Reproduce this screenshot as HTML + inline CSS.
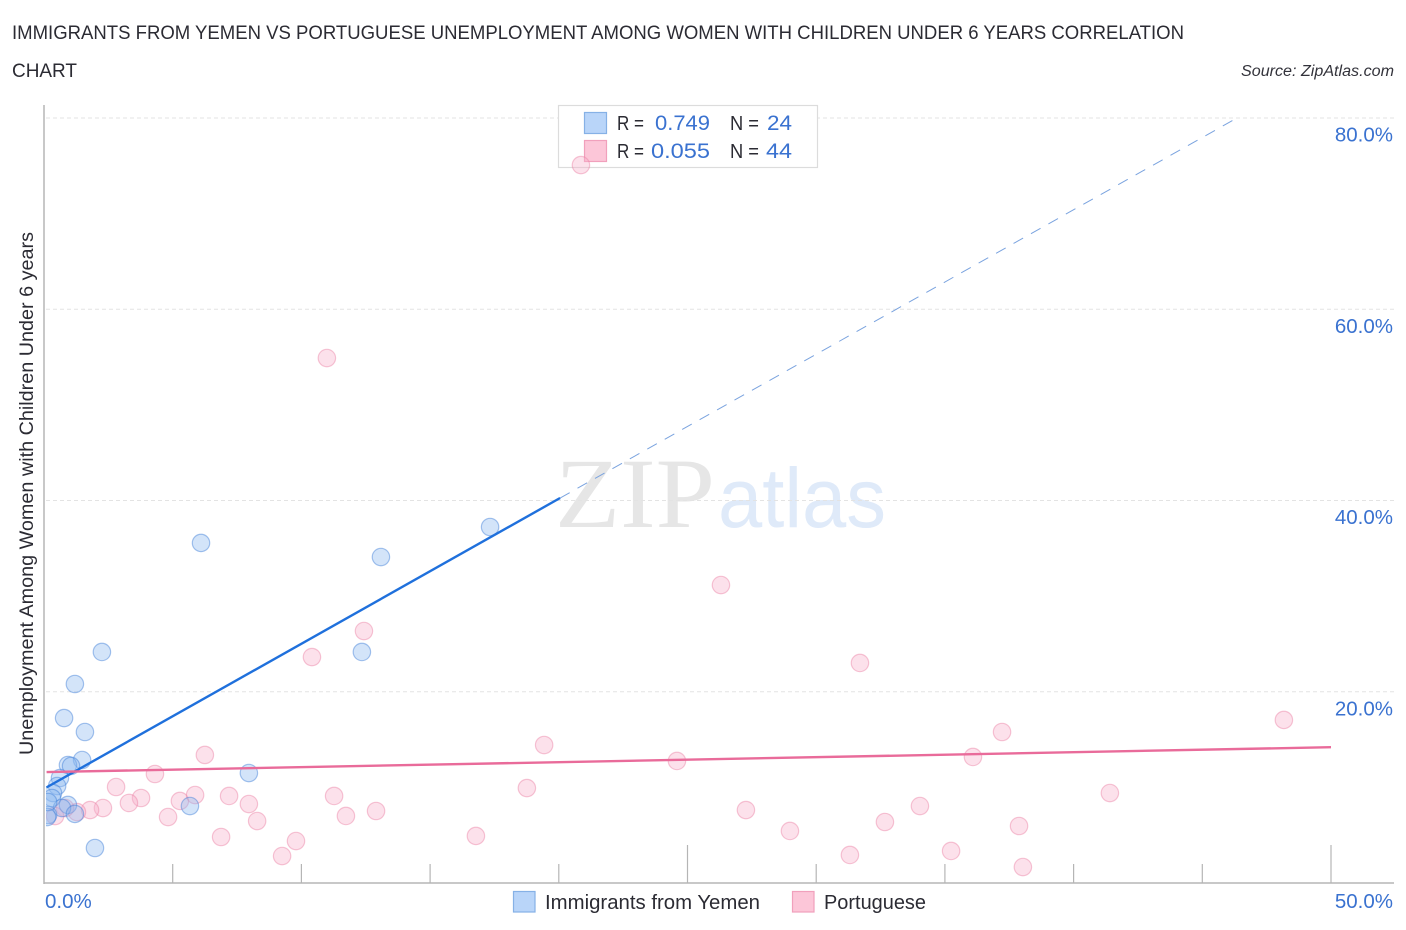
<!DOCTYPE html>
<html lang="en">
<head>
<meta charset="utf-8">
<title>Immigrants from Yemen vs Portuguese Unemployment Correlation Chart</title>
<style>
html,body{margin:0;padding:0;background:#fff;}
body{width:1406px;height:930px;overflow:hidden;}
svg{display:block;font-family:"Liberation Sans",Arial,sans-serif;}
</style>
</head>
<body>
<svg id="chart" xmlns="http://www.w3.org/2000/svg" width="1406" height="930" viewBox="0 0 1406 930">
  <defs>
    <clipPath id="plot-clip"><rect x="46" y="100" width="1350" height="784"/></clipPath>
  </defs>
  <rect x="0" y="0" width="1406" height="930" fill="#fff"/>

  <text x="12" y="39" font-size="19.5" fill="#2b2b33" textLength="1172" lengthAdjust="spacingAndGlyphs">IMMIGRANTS FROM YEMEN VS PORTUGUESE UNEMPLOYMENT AMONG WOMEN WITH CHILDREN UNDER 6 YEARS CORRELATION</text>
  <text x="12" y="77" font-size="19.5" fill="#2b2b33" textLength="65" lengthAdjust="spacingAndGlyphs">CHART</text>
  <text x="1241" y="76" font-size="15.5" font-style="italic" fill="#33333b" textLength="153" lengthAdjust="spacingAndGlyphs">Source: ZipAtlas.com</text>

  <g id="watermark">
    <text x="555" y="527" font-family="'Liberation Serif',serif" font-size="100" fill="#e6e6e6" textLength="160" lengthAdjust="spacingAndGlyphs">ZIP</text>
    <text x="718" y="527" font-size="84" fill="#dfeaf9" textLength="168" lengthAdjust="spacingAndGlyphs">atlas</text>
  </g>

  <g id="grid"></g>
  <g id="axes"></g>
  <g id="tick-labels"></g>

  <text transform="translate(33,755) rotate(-90)" x="0" y="0" font-size="19" fill="#2b2b33" textLength="523" lengthAdjust="spacingAndGlyphs">Unemployment Among Women with Children Under 6 years</text>

  <g id="legend-top">
    <rect x="558.5" y="105.5" width="259" height="62" fill="#fff" stroke="#dcdcdc" stroke-width="1.2"/>
    <rect x="584.5" y="112.5" width="22" height="21" fill="#b9d5f9" stroke="#86b1e6" stroke-width="1.2"/>
    <rect x="584.5" y="140.5" width="22" height="21" fill="#fcc6d8" stroke="#f1a0bc" stroke-width="1.2"/>
    <text x="617" y="130" font-size="20" fill="#2b2b33" textLength="27" lengthAdjust="spacingAndGlyphs">R =</text>
    <text x="655" y="130" font-size="21" fill="#3a72d0" textLength="55" lengthAdjust="spacingAndGlyphs">0.749</text>
    <text x="730" y="130" font-size="20" fill="#2b2b33" textLength="29" lengthAdjust="spacingAndGlyphs">N =</text>
    <text x="767" y="130" font-size="21" fill="#3a72d0" textLength="25" lengthAdjust="spacingAndGlyphs">24</text>
    <text x="617" y="158" font-size="20" fill="#2b2b33" textLength="27" lengthAdjust="spacingAndGlyphs">R =</text>
    <text x="651" y="158" font-size="21" fill="#3a72d0" textLength="59" lengthAdjust="spacingAndGlyphs">0.055</text>
    <text x="730" y="158" font-size="20" fill="#2b2b33" textLength="29" lengthAdjust="spacingAndGlyphs">N =</text>
    <text x="766" y="158" font-size="21" fill="#3a72d0" textLength="26" lengthAdjust="spacingAndGlyphs">44</text>
  </g>

  <g id="series" clip-path="url(#plot-clip)"></g>

  <g id="legend-bottom">
    <rect x="513.5" y="891.5" width="21.5" height="20.5" fill="#b9d5f9" stroke="#86b1e6" stroke-width="1.2"/>
    <text x="545" y="909" font-size="20" fill="#2b2b33" textLength="215" lengthAdjust="spacingAndGlyphs">Immigrants from Yemen</text>
    <rect x="792.5" y="891.5" width="21.5" height="20.5" fill="#fcc6d8" stroke="#f1a0bc" stroke-width="1.2"/>
    <text x="824" y="909" font-size="20" fill="#2b2b33" textLength="102" lengthAdjust="spacingAndGlyphs">Portuguese</text>
  </g>
</svg>

<script>
const yemenX = [6.10,13.09,17.33,2.25,12.35,1.20,0.78,1.59,1.48,0.93,1.05,7.96,0.62,0.51,0.35,0.31,0.93,5.67,0.70,1.20,0.16,0.12,1.98,0.16];
const yemenY = [35.56,34.09,37.23,24.16,24.16,20.81,17.25,15.79,12.86,12.34,12.24,11.50,10.98,10.14,9.41,8.89,8.16,8.05,7.84,7.22,7.11,6.90,3.66,8.47];
const portugueseX = [20.86,10.99,26.30,12.43,10.41,31.70,48.17,37.22,6.25,19.43,24.59,36.09,4.31,2.80,18.76,41.41,3.77,3.30,5.28,5.87,7.19,7.96,11.27,12.90,11.73,4.82,8.28,6.88,9.79,9.25,16.78,27.27,28.98,32.67,34.03,35.24,31.31,37.88,38.03,2.29,1.79,1.28,0.82,0.43];
const portugueseY = [75.08,54.90,31.16,26.35,23.63,23.01,17.05,15.79,13.39,14.43,12.76,13.18,11.40,10.04,9.93,9.41,8.89,8.37,8.58,9.20,9.10,8.26,9.10,7.53,7.01,6.90,6.48,4.81,4.39,2.82,4.92,7.63,5.44,6.38,8.05,3.35,2.93,5.96,1.67,7.84,7.63,7.42,7.84,7.00];
const yemenTrendX = [0.1,20.05];
const yemenTrendY = [10.0,40.26];
const yemenProjectionX = [20.05,46.35];
const yemenProjectionY = [40.26,80];
const portugueseTrendX = [0.1,50];
const portugueseTrendY = [11.6,14.2];
const yTicks = [20,40,60,80];
const yTickLabels = ['20.0%','40.0%','60.0%','80.0%'];
const xTicks = [5,10,15,20,25,30,35,40,45,50];
const xMajorTicks = [25,50];
const xEndLabels = ['0.0%','50.0%'];

const NS = 'http://www.w3.org/2000/svg';
function xScale(v){ return 44 + v * 25.74; }
function yScale(v){ return 883 - v * 9.5625; }
function make(tag, attrs, parent){
  const el = document.createElementNS(NS, tag);
  for (const k in attrs) el.setAttribute(k, attrs[k]);
  parent.appendChild(el);
  return el;
}

const grid = document.getElementById('grid');
const axes = document.getElementById('axes');
const tickLabels = document.getElementById('tick-labels');
const series = document.getElementById('series');

yTicks.forEach(function(t, i){
  const line = make('line', {x1:46, x2:1394, y1:yScale(t), y2:yScale(t), stroke:'#e3e3e3', 'stroke-width':1, 'stroke-dasharray':'4 3'}, grid);
  
  
  const label = make('text', {x:1393, y:yScale(t) + 23.5, 'text-anchor':'end', 'font-size':20.5, fill:'#3a72d0'}, tickLabels);
  label.textContent = yTickLabels[i];
  
  
});

const yAxis = make('line', {x1:44, x2:44, y1:105, y2:884, stroke:'#b5b5b5', 'stroke-width':1.5}, axes);


const xAxis = make('line', {x1:44, x2:1394, y1:883, y2:883, stroke:'#b5b5b5', 'stroke-width':1.5}, axes);



xTicks.forEach(function(t){
  const major = xMajorTicks.indexOf(t) >= 0;
  const tick = make('line', {x1:xScale(t), x2:xScale(t), y1:major ? 845 : 864, y2:883, stroke:'#b5b5b5', 'stroke-width':1.2}, axes);
  
  
});

const xStart = make('text', {x:45, y:908, 'font-size':20.5, fill:'#3a72d0'}, tickLabels);
xStart.textContent = xEndLabels[0];


const xEnd = make('text', {x:1393, y:908, 'text-anchor':'end', 'font-size':20.5, fill:'#3a72d0'}, tickLabels);
xEnd.textContent = xEndLabels[1];



const projection = make('line', {x1:xScale(yemenProjectionX[0]), y1:yScale(yemenProjectionY[0]), x2:xScale(yemenProjectionX[1]), y2:yScale(yemenProjectionY[1]), stroke:'#7aa3df', 'stroke-width':1, 'stroke-dasharray':'11 9'}, series);



portugueseX.forEach(function(v, i){
  const dot = make('circle', {cx:xScale(v), cy:yScale(portugueseY[i]), r:8.7, fill:'rgba(248,176,202,0.38)', stroke:'rgba(236,128,165,0.45)', 'stroke-width':1.2}, series);
  
  
});

yemenX.forEach(function(v, i){
  const dot = make('circle', {cx:xScale(v), cy:yScale(yemenY[i]), r:8.7, fill:'rgba(140,185,240,0.38)', stroke:'rgba(60,125,215,0.45)', 'stroke-width':1.2}, series);
  
  
});

const yemenTrend = make('line', {x1:xScale(yemenTrendX[0]), y1:yScale(yemenTrendY[0]), x2:xScale(yemenTrendX[1]), y2:yScale(yemenTrendY[1]), stroke:'#1f70dc', 'stroke-width':2.4}, series);



const portugueseTrend = make('line', {x1:xScale(portugueseTrendX[0]), y1:yScale(portugueseTrendY[0]), x2:xScale(portugueseTrendX[1]), y2:yScale(portugueseTrendY[1]), stroke:'#e96b9a', 'stroke-width':2.4}, series);


</script>
</body>
</html>
